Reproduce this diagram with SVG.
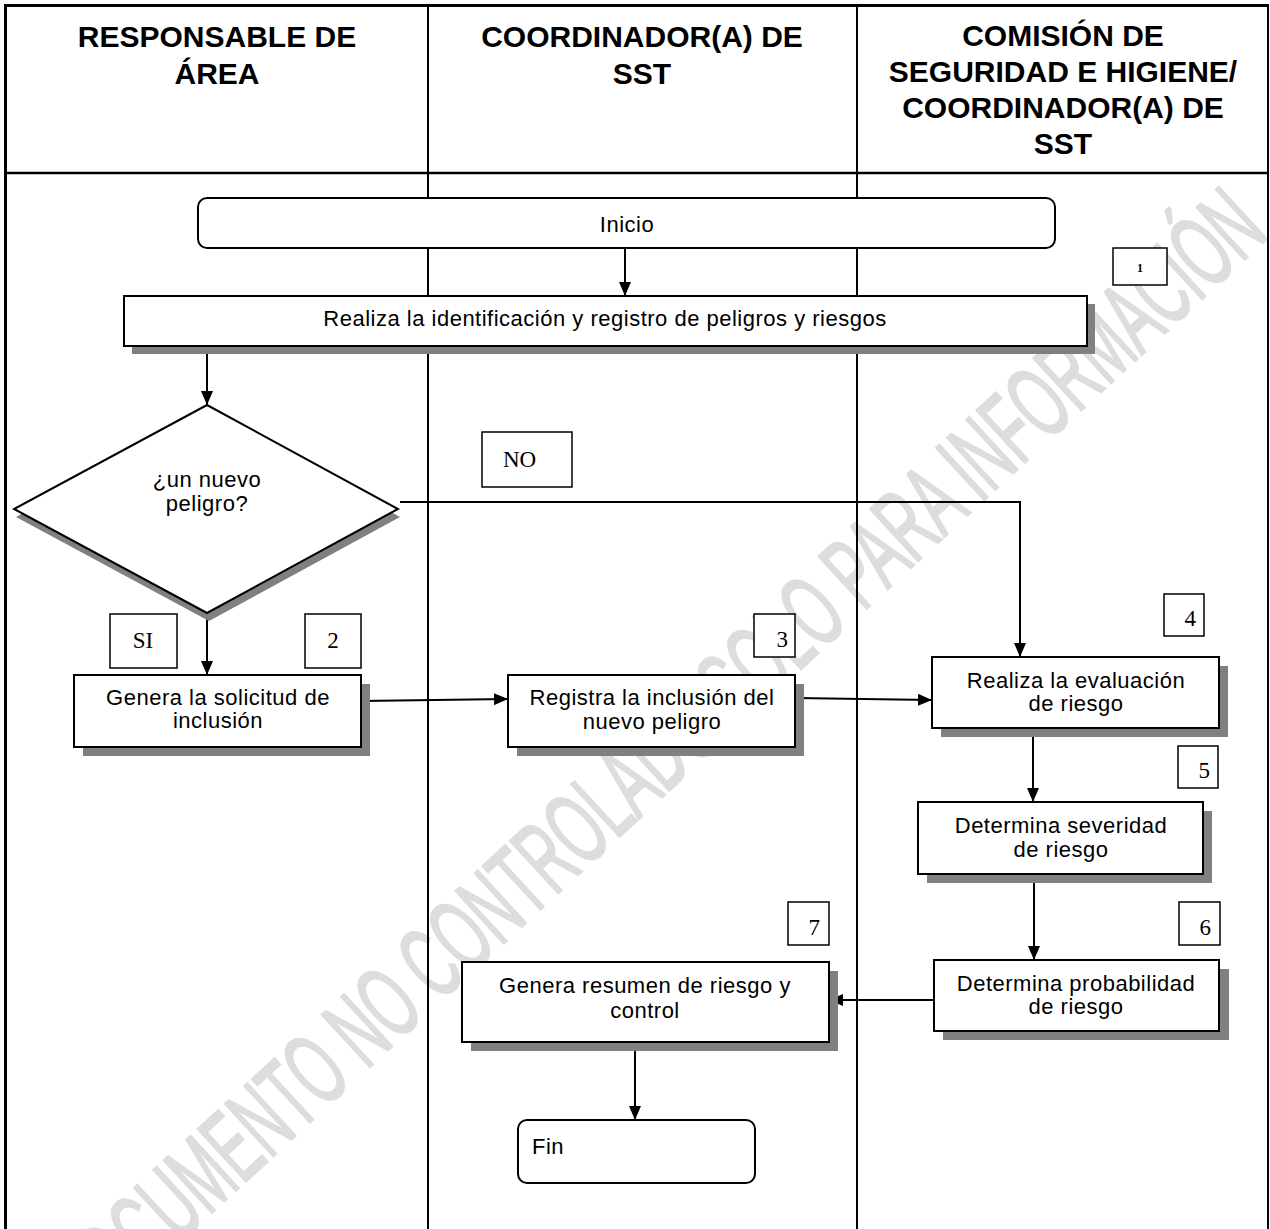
<svg xmlns="http://www.w3.org/2000/svg" width="1270" height="1229" viewBox="0 0 1270 1229">
<style>
.hdr{font-family:"Liberation Sans",Arial,sans-serif;font-weight:bold;font-size:30px;fill:#000;text-anchor:middle}
.lbl{font-family:"Liberation Sans",Arial,sans-serif;font-size:22px;letter-spacing:0.5px;fill:#000;text-anchor:middle}
.num{font-family:"Liberation Serif","Times New Roman",serif;font-size:23px;fill:#000}
.box{fill:#fff;stroke:#000;stroke-width:2}
.nbox{fill:#fff;stroke:#000;stroke-width:1.5}
.shd{fill:#808080}
.ln{stroke:#000;stroke-width:2;fill:none}
.frame{stroke:#000;fill:none}
.wm{font-family:"Liberation Sans Narrow","Liberation Sans",Arial,sans-serif;font-size:103px;fill:#dddddd;stroke:#dddddd;stroke-width:2.5}
</style>
<defs>
<marker id="ah" markerUnits="userSpaceOnUse" markerWidth="14" markerHeight="12" refX="14" refY="6" orient="auto">
<path d="M0,0 L14,6 L0,12 z" fill="#000"/>
</marker>
</defs>
<rect x="0" y="0" width="1270" height="1229" fill="#fff"/>
<text class="wm" x="88" y="1327" transform="rotate(-42.7 88 1327)" textLength="1609" lengthAdjust="spacingAndGlyphs">DOCUMENTO NO CONTROLADO SOLO PARA INFORMACIÓN</text>
<g id="lanes">
<line class="frame" x1="5.5" y1="4" x2="5.5" y2="1229" stroke-width="3"/>
<line class="frame" x1="4" y1="5.5" x2="1269" y2="5.5" stroke-width="3"/>
<line class="frame" x1="1268" y1="4" x2="1268" y2="1229" stroke-width="2"/>
<line class="frame" x1="4" y1="173" x2="1269" y2="173" stroke-width="2.5"/>
<line class="frame" x1="428" y1="5" x2="428" y2="1229" stroke-width="2"/>
<line class="frame" x1="857" y1="5" x2="857" y2="1229" stroke-width="2"/>
<text class="hdr" x="217" y="47">RESPONSABLE DE</text>
<text class="hdr" x="217" y="84">ÁREA</text>
<text class="hdr" x="642" y="47">COORDINADOR(A) DE</text>
<text class="hdr" x="642" y="84">SST</text>
<text class="hdr" x="1063" y="46">COMISIÓN DE</text>
<text class="hdr" x="1063" y="82">SEGURIDAD E HIGIENE/</text>
<text class="hdr" x="1063" y="118">COORDINADOR(A) DE</text>
<text class="hdr" x="1063" y="154">SST</text>
</g>
<g id="connectors">
<line class="ln" x1="625" y1="248" x2="625" y2="296" marker-end="url(#ah)"/>
<line class="ln" x1="207" y1="346" x2="207" y2="405" marker-end="url(#ah)"/>
<line class="ln" x1="207" y1="613" x2="207" y2="675" marker-end="url(#ah)"/>
<polyline class="ln" points="400,502 1020,502 1020,657" marker-end="url(#ah)"/>
<line class="ln" x1="361" y1="701" x2="508" y2="699" marker-end="url(#ah)"/>
<line class="ln" x1="795" y1="698" x2="932" y2="700" marker-end="url(#ah)"/>
<line class="ln" x1="1033" y1="728" x2="1033" y2="802" marker-end="url(#ah)"/>
<line class="ln" x1="1034" y1="874" x2="1034" y2="960" marker-end="url(#ah)"/>
<line class="ln" x1="934" y1="1000" x2="829" y2="1000" marker-end="url(#ah)"/>
<line class="ln" x1="635" y1="1042" x2="635" y2="1120" marker-end="url(#ah)"/>
</g>
<g id="inicio">
<rect class="box" x="198" y="198" width="857" height="50" rx="9"/>
<text class="lbl" x="627" y="232">Inicio</text>
</g>
<g id="n1">
<rect class="nbox" x="1113" y="248" width="54" height="37"/>
<text x="1140" y="272" font-family="Liberation Serif,serif" font-weight="bold" font-size="12" text-anchor="middle">1</text>
</g>
<g id="identificacion">
<rect class="shd" x="132" y="304" width="963" height="50"/>
<rect class="box" x="124" y="296" width="963" height="50"/>
<text class="lbl" x="605" y="326">Realiza la identificación y registro de peligros y riesgos</text>
</g>
<g id="decision">
<polygon class="shd" points="209,413 400,517 209,621 16,517"/>
<polygon class="box" points="207,405 398,509 207,613 14,509"/>
<text class="lbl" x="207" y="487">¿un nuevo</text>
<text class="lbl" x="207" y="511">peligro?</text>
</g>
<g id="lbl-no">
<rect class="nbox" x="482" y="432" width="90" height="55"/>
<text class="num" x="503" y="467">NO</text>
</g>
<g id="lbl-si">
<rect class="nbox" x="110" y="614" width="67" height="54"/>
<text class="num" x="143" y="648" text-anchor="middle">SI</text>
</g>
<g id="n2">
<rect class="nbox" x="305" y="614" width="56" height="54"/>
<text class="num" x="333" y="648" text-anchor="middle">2</text>
</g>
<g id="solicitud">
<rect class="shd" x="83" y="684" width="287" height="72"/>
<rect class="box" x="74" y="675" width="287" height="72"/>
<text class="lbl" x="218" y="705">Genera la solicitud de</text>
<text class="lbl" x="218" y="728">inclusión</text>
</g>
<g id="n3">
<rect class="nbox" x="754" y="614" width="41" height="43"/>
<text class="num" x="788" y="647" text-anchor="end">3</text>
</g>
<g id="registra">
<rect class="shd" x="517" y="684" width="287" height="72"/>
<rect class="box" x="508" y="675" width="287" height="72"/>
<text class="lbl" x="652" y="705">Registra la inclusión del</text>
<text class="lbl" x="652" y="729">nuevo peligro</text>
</g>
<g id="n4">
<rect class="nbox" x="1164" y="594" width="40" height="42"/>
<text class="num" x="1196" y="626" text-anchor="end">4</text>
</g>
<g id="evaluacion">
<rect class="shd" x="941" y="666" width="287" height="71"/>
<rect class="box" x="932" y="657" width="287" height="71"/>
<text class="lbl" x="1076" y="688">Realiza la evaluación</text>
<text class="lbl" x="1076" y="711">de riesgo</text>
</g>
<g id="n5">
<rect class="nbox" x="1178" y="746" width="40" height="42"/>
<text class="num" x="1210" y="778" text-anchor="end">5</text>
</g>
<g id="severidad">
<rect class="shd" x="927" y="811" width="285" height="72"/>
<rect class="box" x="918" y="802" width="285" height="72"/>
<text class="lbl" x="1061" y="833">Determina severidad</text>
<text class="lbl" x="1061" y="857">de riesgo</text>
</g>
<g id="n6">
<rect class="nbox" x="1179" y="902" width="41" height="43"/>
<text class="num" x="1211" y="935" text-anchor="end">6</text>
</g>
<g id="probabilidad">
<rect class="shd" x="943" y="969" width="286" height="71"/>
<rect class="box" x="934" y="960" width="285" height="71"/>
<text class="lbl" x="1076" y="991">Determina probabilidad</text>
<text class="lbl" x="1076" y="1014">de riesgo</text>
</g>
<g id="n7">
<rect class="nbox" x="788" y="902" width="41" height="43"/>
<text class="num" x="820" y="935" text-anchor="end">7</text>
</g>
<g id="resumen">
<rect class="shd" x="471" y="971" width="367" height="80"/>
<rect class="box" x="462" y="962" width="367" height="80"/>
<text class="lbl" x="645" y="993">Genera resumen de riesgo y</text>
<text class="lbl" x="645" y="1018">control</text>
</g>
<g id="fin">
<rect class="box" x="518" y="1120" width="237" height="63" rx="9"/>
<text class="lbl" x="548" y="1154" text-anchor="start">Fin</text>
</g>
</svg>
